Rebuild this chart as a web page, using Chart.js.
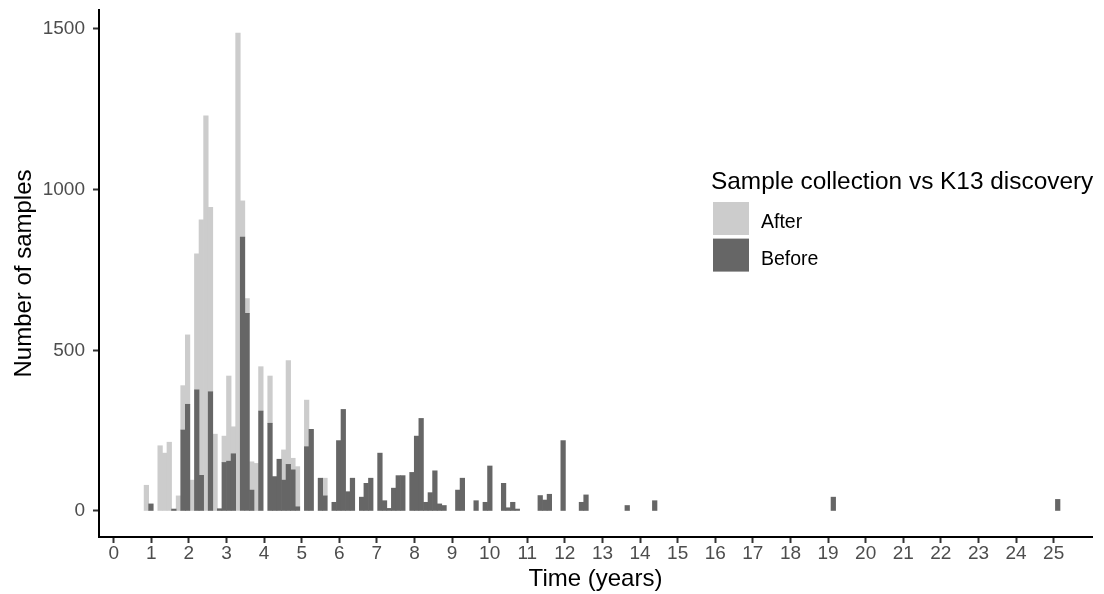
<!DOCTYPE html>
<html>
<head>
<meta charset="utf-8">
<title>Sample collection vs K13 discovery</title>
<script src="https://cdn.jsdelivr.net/npm/chart.js@4.4.1/dist/chart.umd.min.js"></script>
<style>
  html, body { margin: 0; padding: 0; background: #ffffff; }
  #wrap { position: relative; width: 1104px; height: 594px; }
</style>
</head>
<body>
<div id="wrap"><canvas id="chart" width="1104" height="594"></canvas></div>
<script>
// Histogram of sample collection time (200 equal bins), split by collection
// before / after the K13 discovery. Counts are stacked per bin.
const BIN_WIDTH = 0.1218;        // years per bin
const FIRST_BIN_CENTRE = 0.87;   // centre of bin 0, in years

const yearTicks = [0,1,2,3,4,5,6,7,8,9,10,11,12,13,14,15,16,17,18,19,20,21,22,23,24,25];
const countTicks = [0, 500, 1000, 1500];
const groups = ['After', 'Before'];

// bin numbers that hold samples
const bins = [0,1,3,4,5,6,7,8,9,10, 11,12,13,14,15,16,17,18,19,20,
              21,22,23,24,25,27,28,29,30,31, 32,33,35,36,38,39,41,42,43,44,
              45,47,48,49,51,52,53,54,55,56, 58,59,60,61,62,63,64,65,68,69,
              72,74,75,78,79,80,81,86,87,88, 91,95,96,105,111,150,199];

const afterCounts = [80,0,203,180,214,0,47,138,216,96, 423,795,1230,574,239,0,82,265,84,1487,
                     113,46,88,148,138,147,0,0,94,323, 36,125,145,0,0,55,0,0,0,0,
                     0,0,0,0,0,0,0,0,0,0, 0,0,0,0,0,0,0,0,0,0,
                     0,0,0,0,0,0,0,0,0,0, 0,0,0,0,0,0,0];

const beforeCounts = [0,22,0,0,0,6,0,252,332,0, 377,111,0,371,0,7,151,155,178,0,
                      852,615,65,0,311,273,107,161,96,145, 128,13,200,254,102,47,27,219,316,60,
                      102,43,86,102,180,32,8,71,110,110, 120,233,288,27,57,125,22,17,65,102,
                      32,27,140,86,10,27,6,48,34,52, 219,27,50,17,32,43,36];

const colours = { After: '#CCCCCC', Before: '#666666' };
const FONT = '"Liberation Sans", Arial, Helvetica, sans-serif';

const binTime = k => FIRST_BIN_CENTRE + k * BIN_WIDTH;
const series = counts => bins.map((k, i) => ({ x: binTime(k), y: counts[i] > 0 ? counts[i] : null }));

Chart.defaults.font.family = FONT;

// legend drawn inside the panel: title, then one key per group
const keyLegend = {
  id: 'keyLegend',
  afterDraw(chart) {
    const ctx = chart.ctx;
    ctx.save();
    ctx.fillStyle = '#000000';
    ctx.textAlign = 'left';
    ctx.textBaseline = 'alphabetic';
    ctx.font = '24.4px ' + FONT;
    ctx.fillText('Sample collection vs K13 discovery', 711, 189);
    ctx.font = '19.5px ' + FONT;
    groups.forEach((g, i) => {
      const top = 202 + i * 36.6;
      ctx.fillStyle = colours[g];
      ctx.fillRect(713, top, 36, 33);
      ctx.fillStyle = '#000000';
      ctx.fillText(g, 761, top + 26);
    });
    ctx.restore();
  }
};

const axisCommon = {
  type: 'linear',
  stacked: true,
  grid: { display: true, drawOnChartArea: false, drawTicks: true, tickLength: 6, offset: false,
          tickWidth: 2, tickColor: '#333333', color: '#333333' },
  border: { display: true, color: '#000000', width: 2 },
};

new Chart(document.getElementById('chart'), {
  type: 'bar',
  data: {
    datasets: [
      { label: 'Before', data: series(beforeCounts), backgroundColor: colours.Before,
        borderWidth: 0, barPercentage: 1, categoryPercentage: 1 },
      { label: 'After', data: series(afterCounts), backgroundColor: colours.After,
        borderWidth: 0, barPercentage: 1, categoryPercentage: 1 }
    ]
  },
  options: {
    responsive: false,
    animation: false,
    devicePixelRatio: 1,
    layout: { padding: { left: 0, right: 12, top: 10, bottom: 0 } },
    plugins: { legend: { display: false }, tooltip: { enabled: false } },
    scales: {
      x: Object.assign({}, axisCommon, {
        min: -0.39, max: 26.02,
        offset: false,
        ticks: { autoSkip: false, maxRotation: 0, minRotation: 0, color: '#4D4D4D',
                 font: { size: 19, lineHeight: 1 }, padding: 1,
                 callback: v => String(v) },
        afterBuildTicks: s => { s.ticks = yearTicks.map(v => ({ value: v })); },
        afterFit: s => { s.height = 57; s.paddingLeft = 0; s.paddingRight = 0; },
        title: { display: true, text: 'Time (years)', color: '#000000',
                 font: { size: 24 }, padding: { top: 0, bottom: 0 } }
      }),
      y: Object.assign({}, axisCommon, {
        min: -81, max: 1559,
        ticks: { color: '#4D4D4D', font: { size: 19 }, padding: 8,
                 callback: v => String(v) },
        afterBuildTicks: s => { s.ticks = countTicks.map(v => ({ value: v })); },
        afterFit: s => { s.width = 99; s.paddingTop = 0; s.paddingBottom = 0; },
        title: { display: true, text: 'Number of samples', color: '#000000',
                 font: { size: 24 }, padding: { top: 10, bottom: 0 } }
      })
    }
  },
  plugins: [keyLegend]
});
</script>
</body>
</html>
